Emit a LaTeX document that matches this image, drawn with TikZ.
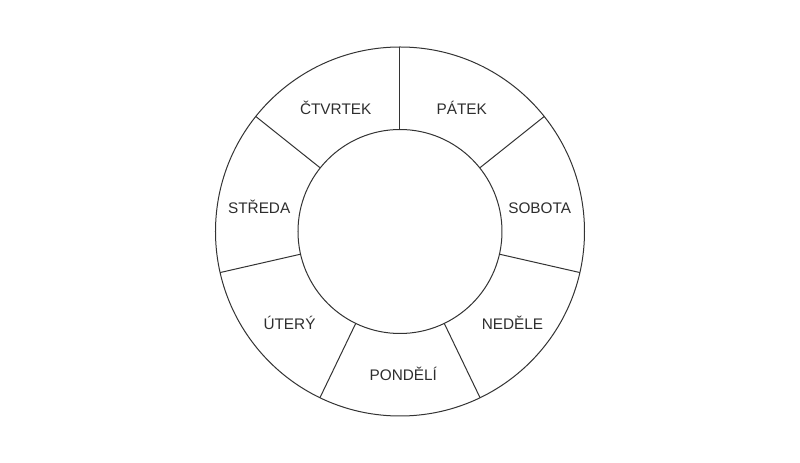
\documentclass[tikz,border=0pt]{standalone}
\usepackage{fontspec}
\setmainfont{Liberation Sans}
\begin{document}
\begin{tikzpicture}[x=0.75pt,y=0.75pt,
  ring/.style={draw=black!80,line width=0.75pt},
  lbl/.style={font=\fontsize{11.5}{14}\selectfont,text=black!82,inner sep=0pt,anchor=base}]
\useasboundingbox (-400,-231.5) rectangle (400,231.5);
\fill[white] (-400,-231.5) rectangle (400,231.5);
\coordinate (c) at (0,0);
\draw[ring] (c) circle (184.5);
\draw[ring] (c) circle (102);
\foreach \i in {0,...,6}{
  \pgfmathsetmacro{\a}{90-\i*360/7}
  \coordinate (in\i) at (\a:102);
  \coordinate (out\i) at (\a:184.5);
  \draw[ring] (in\i) -- (out\i);
}
\node[lbl] (pa) at (61.7,116.8) {PÁTEK};
\node[lbl] (so) at (139.7,18.2) {SOBOTA};
\node[lbl] (ne) at (112.5,-97.7) {NEDĚLE};
\node[lbl] (po) at (3.3,-149.5) {PONDĚLÍ};
\node[lbl] (ut) at (-110.5,-97.6) {ÚTERÝ};
\node[lbl] (st) at (-140.8,18.2) {STŘEDA};
\node[lbl] (ct) at (-64.3,116.8) {ČTVRTEK};
\end{tikzpicture}
\end{document}
